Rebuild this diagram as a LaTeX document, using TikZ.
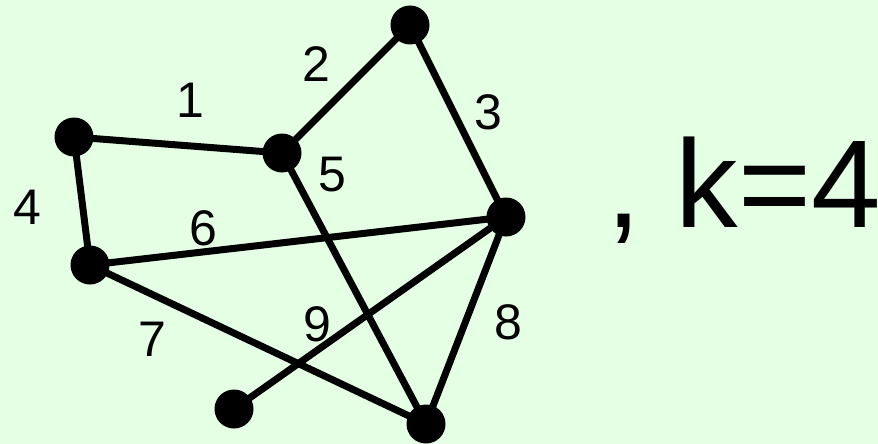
\documentclass[tikz,border=0pt]{standalone}
\usepackage{fontspec}
\setmainfont{Liberation Sans}
\definecolor{bgmint}{RGB}{229,255,229}
\tikzset{
  vtx/.style={circle,fill=black,inner sep=0pt,minimum size=39pt},
  edge/.style={line width=7pt,black},
  elabel/.style={inner sep=0pt,font=\fontsize{50}{60}\selectfont}
}
\begin{document}
\begin{tikzpicture}[x=1pt,y=-1pt]
\fill[bgmint] (0,0) rectangle (878,444);
\useasboundingbox (0,0) rectangle (878,444);
\coordinate (pA) at (74,137);
\coordinate (pB) at (282,153);
\coordinate (pC) at (410,25);
\coordinate (pD) at (506,217);
\coordinate (pE) at (90,265);
\coordinate (pF) at (234,409);
\coordinate (pG) at (426,424);
\draw[edge] (pA) -- (pB);
\draw[edge] (pB) -- (pC);
\draw[edge] (pC) -- (pD);
\draw[edge] (pA) -- (pE);
\draw[edge] (pB) -- (pG);
\draw[edge] (pE) -- (pD);
\draw[edge] (pE) -- (pG);
\draw[edge] (pD) -- (pG);
\draw[edge] (pF) -- (pD);
\node[vtx] (A) at (pA) {};
\node[vtx] (B) at (pB) {};
\node[vtx] (C) at (pC) {};
\node[vtx] (D) at (pD) {};
\node[vtx] (E) at (pE) {};
\node[vtx] (F) at (pF) {};
\node[vtx] (G) at (pG) {};
\node[elabel] (l1) at (190,100) {1};
\node[elabel] (l2) at (316,64) {2};
\node[elabel] (l3) at (488,112) {3};
\node[elabel] (l4) at (27,207) {4};
\node[elabel] (l5) at (332,175) {5};
\node[elabel] (l6) at (203,228) {6};
\node[elabel] (l7) at (152,339) {7};
\node[elabel] (l8) at (508,322) {8};
\node[elabel] (l9) at (317,324) {9};
\node[inner sep=0pt,anchor=base west,font=\fontsize{125}{150}\selectfont] (k) at (606,227) {, k=4};
\end{tikzpicture}
\end{document}
